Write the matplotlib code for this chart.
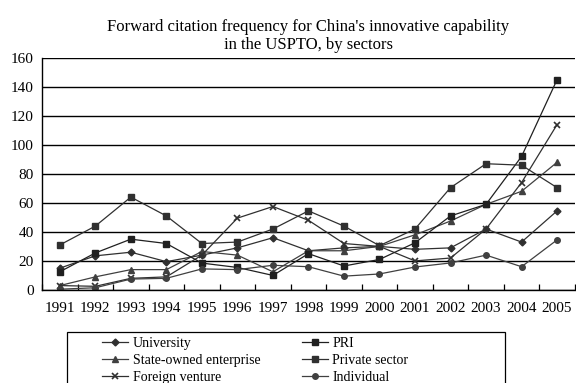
import numpy as np
import matplotlib
matplotlib.use('Agg')
import matplotlib.pyplot as plt
from matplotlib.patches import Rectangle

plt.rcParams['font.family'] = 'Liberation Serif'

years = [str(y) for y in range(1991, 2006)]

university = [15, 23.5, 26, 19.5, 24, 29, 36, 27, 29, 30, 28, 29, 42, 33, 54.5]
pri = [12.5, 25.5, 35, 32, 18.5, 15.5, 10, 25, 16.5, 21, 32.5, 51, 59, 92, 145]
state_owned = [3, 9, 14, 14, 26.5, 24, 12.5, 27, 27, 30, 38, 47.5, 59, 68, 88]
private = [31, 44, 64, 51, 32, 33, 42, 54.5, 44, 30.5, 42, 70.5, 87, 86, 70.5]
foreign = [3, 2.5, 8, 9, 24, 49.5, 57.5, 48, 32, 30, 20, 22, 42, 74, 114]
individual = [0.5, 1.5, 7.5, 8, 14.5, 14, 17, 16, 9.5, 11, 15.8, 18.6, 24, 16, 34.5]

fig = plt.figure(figsize=(5.76, 3.83), dpi=100)
ax = fig.add_axes([0.073, 0.243, 0.925, 0.606])

x = np.arange(len(years))
kw = dict(linewidth=0.9, markersize=4)
ax.plot(x, university, marker='D', color='#303030', markersize=3.5, linewidth=0.9, label='University')
ax.plot(x, state_owned, marker='^', color='#404040', label='State-owned enterprise', **kw)
ax.plot(x, foreign, marker='x', color='#303030', label='Foreign venture', markeredgewidth=1.2, **kw)
ax.plot(x, pri, marker='s', color='#202020', label='PRI', **kw)
ax.plot(x, private, marker='s', color='#303030', label='Private sector', **kw)
ax.plot(x, individual, marker='o', color='#404040', label='Individual', **kw)

ax.set_xlim(-0.5, len(years) - 0.5)
ax.set_ylim(0, 160)
ax.set_yticks(range(0, 161, 20))
ax.yaxis.grid(True, color='black', linewidth=1)
ax.set_axisbelow(True)
ax.set_xticks(x)
ax.set_xticklabels(years)
ax.set_xticks(np.arange(-0.5, len(years), 1), minor=True)
ax.tick_params(axis='x', which='major', length=0, labelsize=11, pad=9)
ax.tick_params(axis='x', which='minor', direction='in', length=4, width=0.9)
ax.tick_params(axis='y', length=0, labelsize=11, pad=6)
for s in ['top', 'right']:
    ax.spines[s].set_visible(False)
ax.spines['left'].set_linewidth(1)
ax.spines['bottom'].set_linewidth(1)

ax.set_title("Forward citation frequency for China's innovative capability\nin the USPTO, by sectors",
             fontsize=12, pad=6)

# legend box (frame drawn separately, it runs off the bottom edge)
fig.patches.append(Rectangle((67 / 576, -0.05), (505 - 67) / 576, 0.05 + 1 - 332 / 383,
                             transform=fig.transFigure, fill=False,
                             edgecolor='black', linewidth=0.9))
fig.legend(loc='upper left', bbox_to_anchor=(102 / 576, 1 - 337 / 383), ncol=2,
           fontsize=10, frameon=False, handlelength=1.9, handletextpad=0.3,
           columnspacing=3.0, labelspacing=0.3, borderpad=0, borderaxespad=0)

fig.savefig('out.png', dpi=100)
